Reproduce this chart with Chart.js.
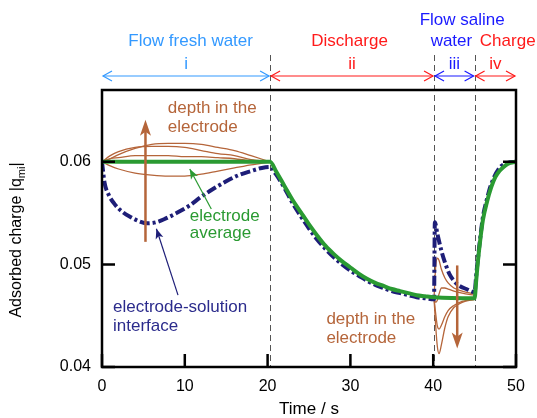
<!DOCTYPE html>
<html>
<head>
<meta charset="utf-8">
<script src="https://cdn.jsdelivr.net/npm/chart.js@4.4.0/dist/chart.umd.min.js"></script>
<style>
  html, body { margin: 0; padding: 0; background: #fff; }
  canvas { display: block; }
</style>
</head>
<body>
<canvas id="chart" width="537" height="418"></canvas>
<script>
// ── Данные ──────────────────────────────────────────────────────────────
const xTicks = [0, 10, 20, 30, 40, 50];
const yTicks = [0.04, 0.05, 0.06];

// электрод, среднее (зелёная)
const avgT = [0, 20.3, 21, 22, 23, 24, 25, 26, 27, 28, 29, 30, 31, 32, 33, 34, 35, 36, 37, 38, 39, 40.1,
              45, 45.2, 45.4, 45.7, 46, 46.5, 47, 47.5, 48, 48.5, 49, 50];
const avgQ = [0.06, 0.06, 0.0591, 0.0577, 0.0563, 0.0551, 0.0539, 0.0528, 0.0518, 0.0510, 0.0503, 0.0497,
              0.0491, 0.0486, 0.0482, 0.0479, 0.0476, 0.0474, 0.0472, 0.0470, 0.0469, 0.0468,
              0.0467, 0.0485, 0.0503, 0.0525, 0.0543, 0.0561, 0.0575, 0.0585, 0.0591, 0.0595, 0.0598, 0.06];

// граница электрод-раствор (синяя штрих-пунктирная)
const ifT = [0, 0.3, 0.8, 1.5, 2.5, 3.5, 4.5, 5.5, 6.5, 7.5, 9, 10.5, 12, 13.5, 15, 16.5, 18, 19.3, 20.3,
             21, 22, 23, 24, 25, 26, 27, 28, 29, 30, 31, 32, 33, 34, 35, 36, 37, 38, 39, 40.1,
             40.2, 40.5, 41, 41.5, 42, 42.5, 43, 44, 45,
             45.2, 45.5, 46, 46.5, 47, 48, 49, 50];
const ifQ = [0.06, 0.0580, 0.0568, 0.0559, 0.0551, 0.0546, 0.0542, 0.0540, 0.0541, 0.0544, 0.0550, 0.0557,
             0.0566, 0.0574, 0.0581, 0.0587, 0.0591, 0.0594, 0.0595,
             0.0588, 0.0575, 0.0560, 0.0547, 0.0535, 0.0524, 0.0515, 0.0507, 0.0500, 0.0494, 0.0489,
             0.0484, 0.0480, 0.0477, 0.0474, 0.0472, 0.0470, 0.0468, 0.0467, 0.0466,
             0.0541, 0.0530, 0.0513, 0.0500, 0.0490, 0.0484, 0.0480, 0.0476, 0.0473,
             0.0490, 0.0513, 0.0546, 0.0564, 0.0578, 0.0594, 0.0599, 0.06];

// глубина электрода, этап i
const depthT1 = [0, 1, 2, 4, 6, 8, 10, 12, 14, 16, 18, 20.3];
const depthA1 = [0.06, 0.0603, 0.0607, 0.0613, 0.0617, 0.0618, 0.0618, 0.0617, 0.0614, 0.0611, 0.0606, 0.06];
const depthB1 = [0.06, 0.0606, 0.0610, 0.0614, 0.0615, 0.0615, 0.0614, 0.0611, 0.0608, 0.0606, 0.0602, 0.06];
const depthC1 = [0.06, 0.0603, 0.0604, 0.0606, 0.0606, 0.0606, 0.0605, 0.0605, 0.0604, 0.0603, 0.0601, 0.06];
const depthD1 = [0.06, 0.0596, 0.0593, 0.0589, 0.0587, 0.0586, 0.0586, 0.0588, 0.0591, 0.0594, 0.0597, 0.06];

// глубина электрода, этап iii
const depthT3 = [40.1, 40.3, 40.5, 40.7, 41, 41.4, 41.8, 42.5, 43.5, 45];
const depthA3 = [0.0467, 0.0498, 0.0506, 0.0504, 0.0495, 0.0487, 0.0482, 0.0477, 0.0474, 0.0471];
const depthB3 = [0.0467, 0.0463, 0.0465, 0.0471, 0.0477, 0.0477, 0.0476, 0.0474, 0.0472, 0.0470];
const depthC3 = [0.0467, 0.0440, 0.0420, 0.0413, 0.0422, 0.0438, 0.0449, 0.0458, 0.0463, 0.0466];
const depthD3 = [0.0467, 0.0452, 0.0440, 0.0437, 0.0441, 0.0449, 0.0455, 0.0460, 0.0464, 0.0466];

// этапы
const phaseStart = [0, 20.3, 40.1, 45];
const phaseEnd   = [20.3, 40.1, 45, 50];
const phaseNames = ['i', 'ii', 'iii', 'iv'];
const dividers   = [20.3, 40.1, 45];

// ── Цвета / шрифт ───────────────────────────────────────────────────────
const FONT   = "'Liberation Sans', Arial, sans-serif";
const GREEN  = '#2a9a32';
const NAVY   = '#1e1e78';
const BROWN  = '#b5653a';
const LBLUE  = '#3399ff';
const RED    = '#ff1a1a';
const BLUE   = '#1a1aff';
const phaseColors = [LBLUE, RED, BLUE, RED];

const topLabels = [
  { t: 10.7, row: 1, text: 'Flow fresh water', color: LBLUE },
  { t: 29.9, row: 1, text: 'Discharge',        color: RED },
  { t: 43.5, row: 0, text: 'Flow saline',      color: BLUE },
  { t: 42.2, row: 1, text: 'water',            color: BLUE },
  { t: 49.0, row: 1, text: 'Charge',           color: RED },
];

// подписи внутри графика (левый край текста, базовые линии)
const notes = [
  { t: 7.95, q: [0.0648, 0.0629],   lines: ['depth in the', 'electrode'], color: BROWN },
  { t: 10.6, q: [0.05427, 0.05255], lines: ['electrode', 'average'],      color: GREEN },
  { t: 1.33, q: [0.04534, 0.0435],  lines: ['electrode-solution', 'interface'], color: '#2b2b8c' },
  { t: 27.1, q: [0.04424, 0.04236], lines: ['depth in the', 'electrode'], color: BROWN },
];

// тонкие стрелки-указатели (хвост → остриё)
const pointers = [
  { from: [13.2, 0.0554], to: [10.6, 0.0593],  color: GREEN },
  { from: [9.18, 0.0470], to: [6.57, 0.05347], color: NAVY },
];

// толстые коричневые стрелки «глубина»
const depthArrows = [
  { t: 5.25, from: 0.0522, to: 0.0641 },
  { t: 42.9, from: 0.0499, to: 0.0418 },
];

const pts = (T, Q) => T.map((t, i) => ({ x: t, y: Q[i] }));

function brown(T, Q) {
  return { data: pts(T, Q), borderColor: BROWN, borderWidth: 1.3, pointRadius: 0,
           cubicInterpolationMode: 'monotone', fill: false };
}

// ── Плагин оформления ───────────────────────────────────────────────────
function arrowHead(ctx, x, y, ang, len, half, filled) {
  ctx.save();
  ctx.translate(x, y);
  ctx.rotate(ang);
  ctx.beginPath();
  if (filled) {
    ctx.moveTo(0, 0);
    ctx.lineTo(-len, -half);
    ctx.lineTo(-len * 0.75, 0);
    ctx.lineTo(-len, half);
    ctx.closePath();
    ctx.fill();
  } else {
    ctx.moveTo(-len, -half);
    ctx.lineTo(0, 0);
    ctx.lineTo(-len, half);
    ctx.stroke();
  }
  ctx.restore();
}

const decor = {
  id: 'decor',
  beforeDatasetsDraw(chart) {
    const { ctx, chartArea: a, scales: { x } } = chart;
    ctx.save();
    ctx.strokeStyle = '#555';
    ctx.lineWidth = 1;
    ctx.setLineDash([6, 4]);
    dividers.forEach(t => {
      const px = Math.round(x.getPixelForValue(t)) + 0.5;
      ctx.beginPath();
      ctx.moveTo(px, 55);
      ctx.lineTo(px, a.bottom);
      ctx.stroke();
    });
    ctx.restore();
  },
  afterDatasetsDraw(chart) {
    const { ctx, chartArea: a, scales: { x, y } } = chart;
    ctx.save();

    // коричневые стрелки
    ctx.strokeStyle = BROWN;
    ctx.fillStyle = BROWN;
    ctx.lineWidth = 2.5;
    depthArrows.forEach(d => {
      const px = x.getPixelForValue(d.t);
      const y0 = y.getPixelForValue(d.from), y1 = y.getPixelForValue(d.to);
      const dir = y1 < y0 ? -1 : 1;
      ctx.beginPath();
      ctx.moveTo(px, y0);
      ctx.lineTo(px, y1 - dir * 10);
      ctx.stroke();
      arrowHead(ctx, px, y1, dir < 0 ? -Math.PI / 2 : Math.PI / 2, 16, 5.5, true);
    });

    // тонкие указатели
    ctx.lineWidth = 1.2;
    pointers.forEach(p => {
      const x0 = x.getPixelForValue(p.from[0]), y0 = y.getPixelForValue(p.from[1]);
      const x1 = x.getPixelForValue(p.to[0]),   y1 = y.getPixelForValue(p.to[1]);
      ctx.strokeStyle = p.color;
      ctx.fillStyle = p.color;
      ctx.beginPath();
      ctx.moveTo(x0, y0);
      ctx.lineTo(x1, y1);
      ctx.stroke();
      arrowHead(ctx, x1, y1, Math.atan2(y1 - y0, x1 - x0), 10, 4, true);
    });

    // подписи
    ctx.font = `17px ${FONT}`;
    ctx.textAlign = 'left';
    ctx.textBaseline = 'alphabetic';
    notes.forEach(n => {
      ctx.fillStyle = n.color;
      n.lines.forEach((s, i) => ctx.fillText(s, x.getPixelForValue(n.t), y.getPixelForValue(n.q[i])));
    });

    // этапы сверху
    ctx.textAlign = 'center';
    topLabels.forEach(l => {
      ctx.fillStyle = l.color;
      ctx.fillText(l.text, x.getPixelForValue(l.t), l.row === 0 ? 25 : 46);
    });
    ctx.lineWidth = 1.2;
    phaseStart.forEach((t0, i) => {
      const x0 = x.getPixelForValue(t0), x1 = x.getPixelForValue(phaseEnd[i]);
      const col = phaseColors[i];
      ctx.fillStyle = col;
      ctx.strokeStyle = col;
      ctx.fillText(phaseNames[i], (x0 + x1) / 2, 68.5);
      ctx.beginPath();
      ctx.moveTo(x0 + 1, 76);
      ctx.lineTo(x1 - 1, 76);
      ctx.stroke();
      arrowHead(ctx, x0 + 1, 76, Math.PI, 9, 5, false);
      arrowHead(ctx, x1 - 1, 76, 0, 9, 5, false);
    });

    // рамка и внутренние засечки
    ctx.strokeStyle = '#000';
    ctx.lineWidth = 2.5;
    ctx.strokeRect(a.left, a.top, a.right - a.left, a.bottom - a.top);
    ctx.beginPath();
    xTicks.forEach(v => {
      const px = x.getPixelForValue(v);
      ctx.moveTo(px, a.bottom);
      ctx.lineTo(px, a.bottom - 13);
    });
    yTicks.forEach(v => {
      const py = y.getPixelForValue(v);
      ctx.moveTo(a.left, py);
      ctx.lineTo(a.left + 13, py);
      ctx.moveTo(a.right, py);
      ctx.lineTo(a.right - 13, py);
    });
    ctx.stroke();

    // подписи осей
    ctx.fillStyle = '#000';
    ctx.textAlign = 'center';
    ctx.font = `17px ${FONT}`;
    ctx.fillText('Time / s', (a.left + a.right) / 2, 414);

    ctx.translate(17, 240);
    ctx.rotate(-Math.PI / 2);
    const main = 'Adsorbed charge |q', sub = 'mi', tail = '|';
    ctx.font = `16px ${FONT}`;
    const wMain = ctx.measureText(main).width, wTail = ctx.measureText(tail).width;
    ctx.font = `11px ${FONT}`;
    const wSub = ctx.measureText(sub).width;
    let cx = -(wMain + wSub + wTail) / 2;
    ctx.textAlign = 'left';
    ctx.textBaseline = 'middle';
    ctx.font = `16px ${FONT}`;
    ctx.fillText(main, cx, 0);
    cx += wMain;
    ctx.font = `11px ${FONT}`;
    ctx.fillText(sub, cx, 5);
    cx += wSub;
    ctx.font = `16px ${FONT}`;
    ctx.fillText(tail, cx, 0);

    ctx.restore();
  },
};

new Chart(document.getElementById('chart'), {
  type: 'line',
  data: {
    datasets: [
      { data: pts(avgT, avgQ), borderColor: GREEN, borderWidth: 4, pointRadius: 0,
        cubicInterpolationMode: 'monotone', fill: false },
      { data: pts(ifT, ifQ), borderColor: NAVY, borderWidth: 4, pointRadius: 0,
        borderDash: [10, 3, 3, 3], cubicInterpolationMode: 'monotone', fill: false },
      brown(depthT1, depthA1), brown(depthT1, depthB1), brown(depthT1, depthC1), brown(depthT1, depthD1),
      brown(depthT3, depthA3), brown(depthT3, depthB3), brown(depthT3, depthC3), brown(depthT3, depthD3),
    ],
  },
  options: {
    responsive: false,
    animation: false,
    devicePixelRatio: 1,
    layout: { padding: { top: 90, right: 21, left: 0, bottom: 0 } },
    plugins: { legend: { display: false }, tooltip: { enabled: false } },
    scales: {
      x: {
        type: 'linear', min: 0, max: 50,
        afterBuildTicks: s => { s.ticks = xTicks.map(v => ({ value: v })); },
        afterFit: s => { s.height = 51; },
        grid: { display: false, drawTicks: false },
        border: { display: false },
        ticks: { color: '#000', font: { family: FONT, size: 16 }, padding: 10,
                 maxRotation: 0, autoSkip: false },
      },
      y: {
        type: 'linear', min: 0.04, max: 0.067,
        afterBuildTicks: s => { s.ticks = yTicks.map(v => ({ value: v })); },
        afterFit: s => { s.width = 102; },
        grid: { display: false, drawTicks: false },
        border: { display: false },
        ticks: { color: '#000', font: { family: FONT, size: 16 }, padding: 11,
                 callback: v => v.toFixed(2) },
      },
    },
  },
  plugins: [decor],
});
</script>
</body>
</html>
